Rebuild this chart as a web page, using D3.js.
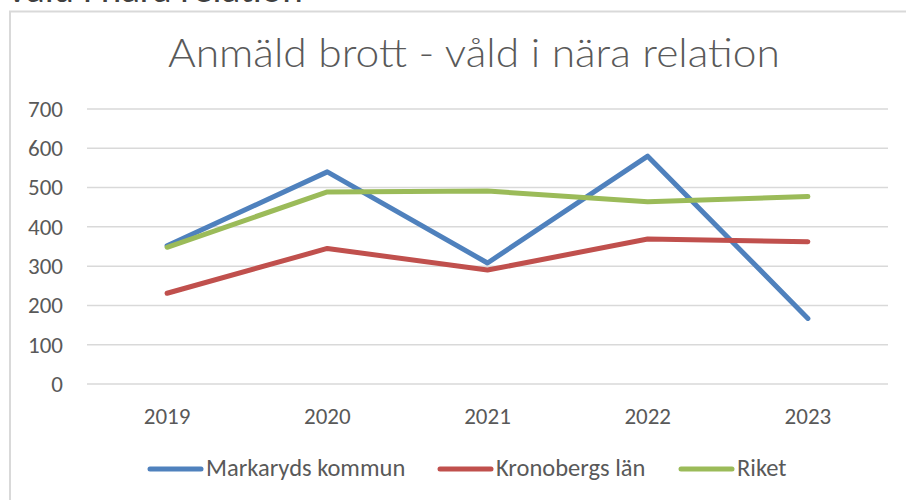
<!DOCTYPE html>
<html lang="sv">
<head>
  <meta charset="UTF-8">
  <title>Anmäld brott</title>
  <script src="https://d3js.org/d3.v7.min.js"></script>
  <style>
    body { margin: 0; background: #fff; }
    text { font-family: Carlito, Calibri, "Open Sans", sans-serif; fill: #595959; }
  </style>
</head>
<body>
  <div id="chart"></div>
  <script>
    const years = ["2019", "2020", "2021", "2022", "2023"];
    const markaryd = [352, 540, 308, 580, 167];
    const kronoberg = [231, 345, 290, 369, 362];
    const riket = [348, 489, 491, 464, 477];
    const yTicks = [0, 100, 200, 300, 400, 500, 600, 700];
    const seriesNames = ["Markaryds kommun", "Kronobergs län", "Riket"];
    const colors = ["#4f81bd", "#c0504d", "#9bbb59"];

    const W = 906, H = 500;
    const margin = {top: 109, right: 18, bottom: 116, left: 87};
    const width = W - margin.left - margin.right,
          height = H - margin.top - margin.bottom;

    const root = d3.select("#chart").append("svg")
      .attr("width", W).attr("height", H);

    // ram runt diagrammet (högerkant utanför bilden)
    root.append("rect")
      .attr("x", 10).attr("y", 11.5)
      .attr("width", W + 20).attr("height", H + 20)
      .attr("fill", "none").attr("stroke", "#d9d9d9").attr("stroke-width", 2);

    // avklippt rubrik ovanför ramen
    root.append("text")
      .attr("x", 6).attr("y", 2)
      .style("font-size", "39px").style("fill", "#404040")
      .text("Våld i nära relation");

    root.append("text")
      .attr("x", 168).attr("y", 67)
      .attr("textLength", 612).attr("lengthAdjust", "spacingAndGlyphs")
      .style("font-family", "Lato, sans-serif")
      .style("font-size", "40px").style("font-weight", 300)
      .text("Anmäld brott - våld i nära relation");

    const svg = root.append("g")
      .attr("transform", `translate(${margin.left},${margin.top})`);

    const x = d3.scaleBand().domain(years).range([0, width]);
    const y = d3.scaleLinear().domain([0, 700]).range([height, 0]);

    svg.append("g")
      .selectAll("line")
      .data(yTicks)
      .enter().append("line")
      .attr("x1", 0).attr("x2", width)
      .attr("y1", d => y(d)).attr("y2", d => y(d))
      .attr("stroke", "#d9d9d9").attr("stroke-width", 1.5);

    const yAxis = svg.append("g")
      .call(d3.axisLeft(y).tickValues(yTicks).tickSize(0).tickPadding(24));
    yAxis.select(".domain").remove();
    yAxis.selectAll("text").style("font-size", "23px").style("font-family", null);

    const xAxis = svg.append("g")
      .attr("transform", `translate(0,${height})`)
      .call(d3.axisBottom(x).tickSize(0).tickPadding(24));
    xAxis.select(".domain").remove();
    xAxis.selectAll("text").style("font-size", "23px").style("font-family", null);

    const allSeries = [markaryd, kronoberg, riket];
    const line = d3.line()
      .x((d, i) => x(years[i]) + x.bandwidth() / 2)
      .y(d => y(d));

    svg.selectAll(".serie")
      .data(allSeries)
      .enter().append("path")
      .attr("class", "serie")
      .attr("d", d => line(d))
      .attr("fill", "none")
      .attr("stroke", (d, i) => colors[i])
      .attr("stroke-width", 5)
      .attr("stroke-linecap", "round")
      .attr("stroke-linejoin", "round");

    // förklaring
    const legendX = [148, 438, 679];
    const legend = root.append("g").attr("transform", "translate(0,469)");
    const item = legend.selectAll("g")
      .data(seriesNames)
      .enter().append("g")
      .attr("transform", (d, i) => `translate(${legendX[i]},0)`);
    item.append("line")
      .attr("x1", 2).attr("x2", 53)
      .attr("stroke", (d, i) => colors[i])
      .attr("stroke-width", 5).attr("stroke-linecap", "round");
    item.append("text")
      .attr("x", 58).attr("y", 7)
      .style("font-size", "24.5px")
      .text(d => d);
  </script>
</body>
</html>
